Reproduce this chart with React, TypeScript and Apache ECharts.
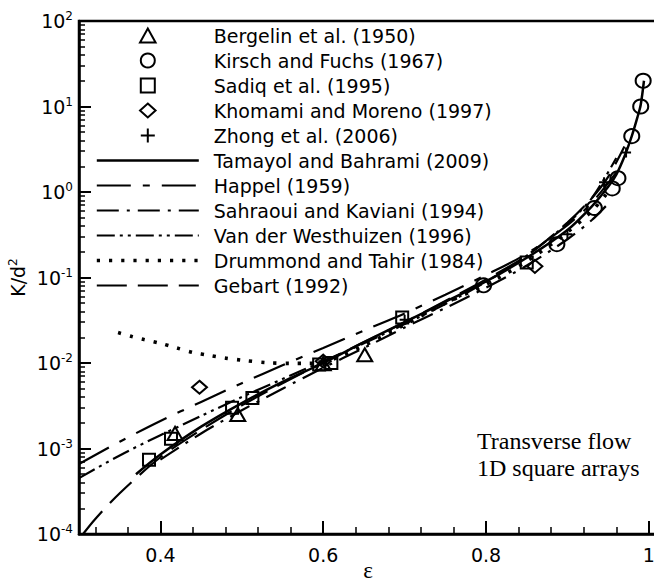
import React, { useEffect, useRef } from "react";
import * as echarts from "echarts";

const SANS = '"DejaVu Sans", sans-serif';
const SERIF = '"Liberation Serif", serif';

// x tick values
const xMajorTicks = [0.4, 0.6, 0.8, 1];
const xMinorTicks = [0.32, 0.36, 0.44, 0.48, 0.52, 0.56, 0.64, 0.68, 0.72, 0.76, 0.84, 0.88, 0.92, 0.96];
const yMinorTicks: number[] = [];
for (let e = -4; e <= 1; e++) for (let k = 2; k <= 9; k++) yMinorTicks.push(Number((k * Math.pow(10, e)).toPrecision(3)));

// experimental data [porosity, K/d^2]
const bergelin = [[0.418, 1.5e-3], [0.495, 2.5e-3], [0.6, 0.0098], [0.651, 0.0125]];
const kirsch = [[0.797, 0.081], [0.887, 0.245], [0.933, 0.65], [0.955, 1.1], [0.962, 1.45], [0.979, 4.5], [0.99, 10], [0.993, 20]];
const sadiq = [[0.386, 7.4e-4], [0.413, 1.3e-3], [0.488, 3.0e-3], [0.513, 3.9e-3], [0.595, 9.6e-3], [0.61, 1.0e-2], [0.697, 0.034], [0.85, 0.15]];
const khomami = [[0.448, 5.2e-3], [0.6, 0.0105], [0.86, 0.135]];
const zhong = [[0.6, 0.0105], [0.7, 0.032], [0.9, 0.32], [0.945, 1.3], [0.972, 2.9]];

// model curves
const tamayol = [[0.37, 5.0e-4], [0.4, 8.5e-4], [0.45, 1.8e-3], [0.5, 3.4e-3], [0.55, 6.0e-3], [0.6, 1.0e-2], [0.65, 1.75e-2], [0.7, 3.0e-2], [0.75, 5.2e-2], [0.8, 9.0e-2], [0.85, 0.17], [0.9, 0.36], [0.93, 0.68], [0.95, 1.15], [0.96, 1.6], [0.97, 2.6], [0.979, 4.5], [0.986, 7.5], [0.99, 10.5], [0.994, 20]];
const happel = [[0.3, 6.6e-4], [0.35, 1.2e-3], [0.4, 2.1e-3], [0.45, 3.5e-3], [0.5, 5.8e-3], [0.55, 9.4e-3], [0.6, 1.5e-2], [0.65, 2.4e-2], [0.7, 3.8e-2], [0.75, 6.3e-2], [0.8, 0.107], [0.85, 0.19], [0.9, 0.41], [0.93, 0.75], [0.96, 1.7]];
const sahraoui = [[0.4, 7.4e-4], [0.45, 1.5e-3], [0.5, 2.8e-3], [0.55, 5.0e-3], [0.6, 8.8e-3], [0.65, 1.5e-2], [0.7, 2.6e-2], [0.75, 4.4e-2], [0.8, 7.6e-2], [0.85, 0.138], [0.9, 0.28], [0.93, 0.47], [0.95, 0.73]];
const vanDerW = [[0.3, 4.5e-4], [0.35, 8.3e-4], [0.4, 1.43e-3], [0.45, 2.4e-3], [0.5, 4.0e-3], [0.55, 6.5e-3], [0.6, 1.05e-2], [0.65, 1.7e-2], [0.7, 2.85e-2], [0.75, 4.9e-2], [0.8, 8.9e-2], [0.85, 0.18], [0.9, 0.43], [0.93, 0.85], [0.96, 2.5]];
const drummond = [[0.348, 0.0227], [0.365, 0.0204], [0.38, 0.0188], [0.4, 0.017], [0.42, 0.015], [0.44, 0.0133], [0.46, 0.0123], [0.48, 0.0114], [0.5, 0.0108], [0.53, 0.0101], [0.56, 0.0099], [0.58, 0.0099], [0.6, 0.0102], [0.65, 0.016], [0.7, 0.028], [0.75, 0.05], [0.8, 0.083], [0.85, 0.155], [0.9, 0.34], [0.93, 0.6], [0.95, 1.0]];
const gebart = [[0.305, 1.0e-4], [0.32, 1.5e-4], [0.35, 3.0e-4], [0.4, 7.9e-4], [0.45, 1.65e-3], [0.5, 3.2e-3], [0.55, 5.8e-3], [0.6, 1.02e-2], [0.65, 1.75e-2], [0.7, 3.0e-2], [0.75, 5.3e-2], [0.8, 9.5e-2], [0.85, 0.18], [0.9, 0.44], [0.93, 0.85], [0.95, 1.5], [0.97, 3.4]];

const TRI = "path://M5,0L10,9L0,9Z";
const RECT = "path://M0,0L10,0L10,10L0,10Z";
const DIAM = "path://M5,0L10,4.5L5,9L0,4.5Z";
const PLUS = "path://M5,0L5,10M0,5L10,5";

const scatterDefs = [
  { name: "Bergelin et al. (1950)", data: bergelin, symbol: TRI, size: [15, 13] },
  { name: "Kirsch and Fuchs (1967)", data: kirsch, symbol: "circle", size: [15, 14] },
  { name: "Sadiq et al. (1995)", data: sadiq, symbol: RECT, size: [12, 12] },
  { name: "Khomami and Moreno (1997)", data: khomami, symbol: DIAM, size: [15, 13] },
  { name: "Zhong et al. (2006)", data: zhong, symbol: PLUS, size: [10, 10] },
];

const lineDefs = [
  { name: "Tamayol and Bahrami (2009)", data: tamayol, dash: "solid", width: 2.5 },
  { name: "Happel (1959)", data: happel, dash: [34, 12, 7, 12], width: 2.2 },
  { name: "Sahraoui and Kaviani (1994)", data: sahraoui, dash: [22, 8, 3, 8], width: 2.2 },
  { name: "Van der Westhuizen (1996)", data: vanDerW, dash: [18, 5, 3, 5, 3, 5], width: 2.2 },
  { name: "Drummond and Tahir (1984)", data: drummond, dash: [3.2, 9], width: 3.6 },
  { name: "Gebart (1992)", data: gebart, dash: [30, 11], width: 2.2 },
];

export default function App() {
  const ref = useRef<HTMLDivElement>(null);
  useEffect(() => {
    if (!ref.current) return;
    const chart = echarts.init(ref.current, null, { renderer: "svg" });
    const series: any[] = [];
    lineDefs.forEach((d) => {
      series.push({
        type: "line",
        name: d.name,
        data: d.data,
        showSymbol: false,
        symbol: "none",
        smooth: 0.3,
        z: 3,
        itemStyle: { color: "rgba(0,0,0,0)", borderWidth: 0 },
        lineStyle: { color: "#000", width: d.width, type: d.dash, cap: "butt" },
      });
    });
    scatterDefs.forEach((d) => {
      series.push({
        type: "scatter",
        name: d.name,
        data: d.data,
        symbol: d.symbol,
        symbolSize: d.size,
        symbolKeepAspect: false,
        z: 5,
        itemStyle: { color: "rgba(0,0,0,0)", borderColor: "#000", borderWidth: 2, opacity: 1 },
      });
    });
    const legendData: any[] = [
      ...scatterDefs.map((d) => ({ name: d.name, itemStyle: { color: "rgba(0,0,0,0)", borderColor: "#000", borderWidth: 2, opacity: 1 } })),
      ...lineDefs.map((d) => ({ name: d.name, lineStyle: { color: "#000", width: d.width, type: d.dash, cap: "butt", opacity: 1 } })),
    ];
    chart.setOption({
      animation: false,
      backgroundColor: "#fff",
      grid: {
        left: 79, right: -3, top: 21, bottom: 48, show: true,
        borderColor: "#000", borderWidth: 2.5, containLabel: false, outerBoundsMode: "none",
      },
      legend: {
        orient: "vertical", left: 95, top: 26, padding: 0, itemWidth: 102, itemHeight: 14, itemGap: 6,
        symbolKeepAspect: true,
        selectedMode: false, data: legendData,
        textStyle: { fontFamily: SANS, fontSize: 19, color: "#000", padding: [0, 0, 0, 10] },
      },
      xAxis: [
        {
          type: "value", min: 0.3, max: 1.01, position: "bottom",
          axisLine: { show: true, onZero: false, lineStyle: { color: "#000", width: 2.5 } },
          axisTick: { show: true, inside: true, length: 13, lineStyle: { color: "#000", width: 2 }, customValues: xMajorTicks },
          axisLabel: { customValues: xMajorTicks, fontFamily: SANS, fontSize: 19, color: "#000", margin: 11, formatter: (v: number) => String(v) },
          splitLine: { show: false },
          name: "ε", nameLocation: "middle", nameGap: 25, nameMoveOverlap: false,
          nameTextStyle: { fontFamily: SERIF, fontSize: 23, color: "#000" },
        },
        {
          type: "value", min: 0.3, max: 1.01, position: "bottom",
          axisLine: { show: false },
          axisTick: { show: true, inside: true, length: 7, lineStyle: { color: "#000", width: 1.5 }, customValues: xMinorTicks },
          axisLabel: { show: false },
          splitLine: { show: false },
        },
      ],
      yAxis: [
        {
          type: "log", logBase: 10, min: 1e-4, max: 100, position: "left",
          axisLine: { show: true, onZero: false, lineStyle: { color: "#000", width: 2.5 } },
          axisTick: { show: true, inside: true, length: 12, lineStyle: { color: "#000", width: 2 } },
          axisLabel: {
            margin: 6,
            formatter: (v: number) => `{b|10}{s|${Math.round(Math.log10(v))}}`,
            rich: {
              b: { fontFamily: SANS, fontSize: 19, color: "#000", lineHeight: 22 },
              s: { fontFamily: SANS, fontSize: 12, color: "#000", lineHeight: 12, verticalAlign: "top" },
            },
          },
          splitLine: { show: false },
          minorTick: { show: false },
          name: "{a|K/d}{s|2}", nameLocation: "middle", nameRotate: 90, nameGap: 50, nameMoveOverlap: false,
          nameTextStyle: {
            rich: {
              a: { fontFamily: SANS, fontSize: 19, color: "#000", lineHeight: 22 },
              s: { fontFamily: SANS, fontSize: 12, color: "#000", lineHeight: 12, verticalAlign: "top" },
            },
          },
        },
        {
          type: "log", logBase: 10, min: 1e-4, max: 100, position: "left",
          axisLine: { show: false },
          axisTick: { show: true, inside: true, length: 6, lineStyle: { color: "#000", width: 1.5 }, customValues: yMinorTicks },
          axisLabel: { show: false },
          splitLine: { show: false },
        },
      ],
      graphic: [
        {
          type: "text", x: 477, y: 427,
          style: { text: "Transverse flow\n1D square arrays", font: `24px ${SERIF}`, lineHeight: 27, fill: "#000", verticalAlign: "top" },
        },
      ],
      series,
    });
    return () => chart.dispose();
  }, []);
  return <div ref={ref} style={{ position: "fixed", left: 0, top: 0, width: 654, height: 582, background: "#fff" }} />;
}
